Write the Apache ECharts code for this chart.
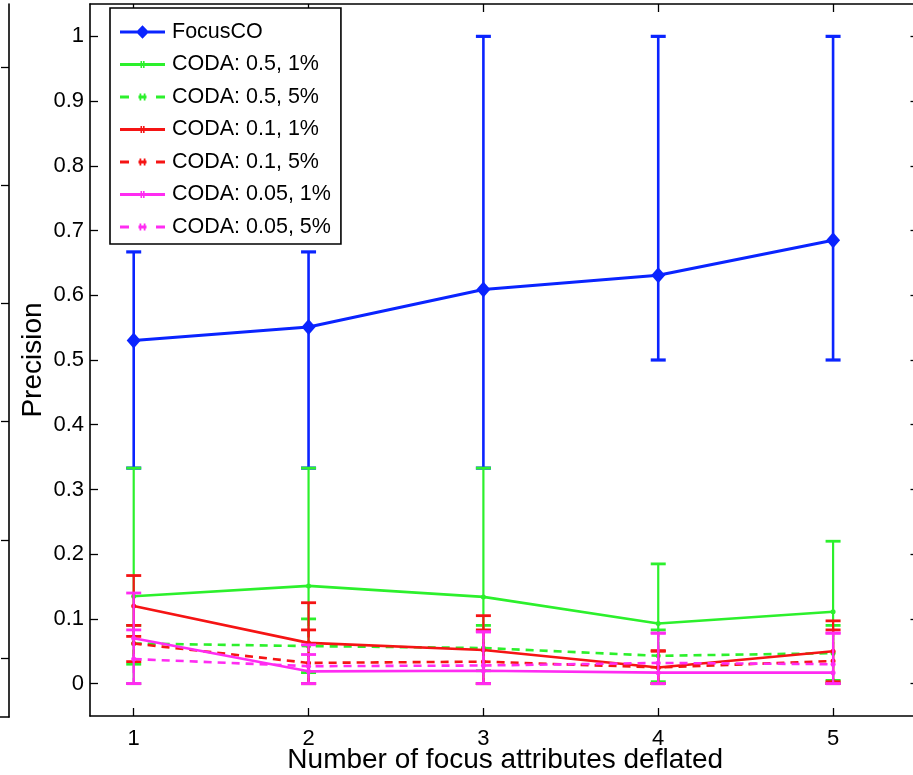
<!DOCTYPE html>
<html>
<head>
<meta charset="utf-8">
<script src="https://cdn.jsdelivr.net/npm/echarts@6/dist/echarts.min.js"></script>
<style>
html,body{margin:0;padding:0;background:#fff;}
#c{width:913px;height:775px;}
</style>
</head>
<body>
<div id="c"></div>
<script>
// ---- data ----
const xValues = [1, 2, 3, 4, 5];
const xTicks = [1, 2, 3, 4, 5];
const yTicks = [0, 0.1, 0.2, 0.3, 0.4, 0.5, 0.6, 0.7, 0.8, 0.9, 1];

const focusCO      = [0.530, 0.551, 0.609, 0.631, 0.685];
const focusCO_lo   = [0.333, 0.333, 0.333, 0.5, 0.5];
const focusCO_hi   = [0.667, 0.667, 1.0, 1.0, 1.0];

const coda05_1     = [0.135, 0.151, 0.134, 0.093, 0.111];
const coda05_1_lo  = [0, 0, 0, 0, 0];
const coda05_1_hi  = [0.333, 0.333, 0.333, 0.185, 0.22];

const coda05_5     = [0.062, 0.058, 0.055, 0.043, 0.047];
const coda05_5_lo  = [0.03, 0.017, 0.02, 0.003, 0.005];
const coda05_5_hi  = [0.09, 0.1, 0.09, 0.083, 0.09];

const coda01_1     = [0.120, 0.063, 0.052, 0.025, 0.050];
const coda01_1_lo  = [0.073, 0, 0, 0, 0.003];
const coda01_1_hi  = [0.167, 0.125, 0.105, 0.051, 0.097];

const coda01_5     = [0.062, 0.032, 0.034, 0.025, 0.035];
const coda01_5_lo  = [0.034, 0, 0, 0, 0];
const coda01_5_hi  = [0.09, 0.083, 0.083, 0.05, 0.083];

const coda005_1    = [0.070, 0.019, 0.020, 0.017, 0.017];
const coda005_1_lo = [0, 0, 0, 0, 0];
const coda005_1_hi = [0.14, 0.045, 0.08, 0.078, 0.078];

const coda005_5    = [0.038, 0.027, 0.028, 0.032, 0.030];
const coda005_5_lo = [0, 0, 0, 0, 0];
const coda005_5_hi = [0.083, 0.06, 0.08, 0.078, 0.078];

const seriesNames = ['FocusCO', 'CODA: 0.5, 1%', 'CODA: 0.5, 5%', 'CODA: 0.1, 1%', 'CODA: 0.1, 5%', 'CODA: 0.05, 1%', 'CODA: 0.05, 5%'];
const decoTicks = [0.5, 1.5, 2.5, 3.5, 4.5, 5.5];

// ---- styling ----
const FONT = '"Liberation Sans", Arial, Helvetica, sans-serif';
const BLUE = '#0a24ff', GREEN = '#2cf02c', RED = '#f51414', MAG = '#ff2cf2';

// legend icons (line sample + small marker), 45 x 14 box
const ICON_DIAMOND = 'path://M0,0L0,0Z M45,14L45,14Z M0,5.5h45v3h-45Z M22.5,0.3L29,7L22.5,13.7L16,7Z';
const ICON_SOLID = 'path://M0,0L0,0Z M45,14L45,14Z M0,5.6h45v2.8h-45Z M20.5,3.5h1.6v7h-1.6Z M23,3.5h1.6v7h-1.6Z';
const ICON_DASH  = 'path://M0,0L0,0Z M45,14L45,14Z M0,5.6h9v2.8h-9Z M36,5.6h9v2.8h-9Z M18.5,5.6h8v2.8h-8Z M19.5,3.5h1.8v7h-1.8Z M23.7,3.5h1.8v7h-1.8Z';

const defs = [
  {name: seriesNames[0], y: focusCO, lo: focusCO_lo, hi: focusCO_hi, color: BLUE, dashed: false, sym: 'diamond', size: [14, 16], lw: 3, cap: 15},
  {name: seriesNames[1], y: coda05_1, lo: coda05_1_lo, hi: coda05_1_hi, color: GREEN, dashed: false, sym: 'circle', size: 5, lw: 2.6, cap: 15},
  {name: seriesNames[2], y: coda05_5, lo: coda05_5_lo, hi: coda05_5_hi, color: GREEN, dashed: true, sym: 'circle', size: 5, lw: 2.6, cap: 15},
  {name: seriesNames[3], y: coda01_1, lo: coda01_1_lo, hi: coda01_1_hi, color: RED, dashed: false, sym: 'circle', size: 5, lw: 2.6, cap: 15},
  {name: seriesNames[4], y: coda01_5, lo: coda01_5_lo, hi: coda01_5_hi, color: RED, dashed: true, sym: 'circle', size: 5, lw: 2.6, cap: 15},
  {name: seriesNames[5], y: coda005_1, lo: coda005_1_lo, hi: coda005_1_hi, color: MAG, dashed: false, sym: 'circle', size: 5, lw: 2.6, cap: 15},
  {name: seriesNames[6], y: coda005_5, lo: coda005_5_lo, hi: coda005_5_hi, color: MAG, dashed: true, sym: 'circle', size: 5, lw: 2.6, cap: 15}
];

function errRender(color, dashed, capW, lw) {
  return function (params, api) {
    const x = api.value(0), lo = api.value(2), hi = api.value(3);
    const pHi = api.coord([x, hi]);
    const pLo = api.coord([x, lo]);
    const hw = capW / 2;
    const style = {stroke: color, lineWidth: lw, lineDash: dashed ? [7, 5] : null, fill: null};
    const capStyle = {stroke: color, lineWidth: lw + 0.6, fill: null};
    return {
      type: 'group',
      children: [
        {type: 'line', shape: {x1: pHi[0], y1: pHi[1], x2: pLo[0], y2: pLo[1]}, style: style},
        {type: 'line', shape: {x1: pHi[0] - hw, y1: pHi[1], x2: pHi[0] + hw, y2: pHi[1]}, style: capStyle},
        {type: 'line', shape: {x1: pLo[0] - hw, y1: pLo[1], x2: pLo[0] + hw, y2: pLo[1]}, style: capStyle}
      ]
    };
  };
}

const series = [];
defs.forEach(function (d, i) {
  series.push({
    name: d.name + ' err',
    type: 'custom',
    xAxisIndex: 0, yAxisIndex: 0,
    renderItem: errRender(d.color, d.dashed, d.cap, d.lw - 0.4),
    encode: {x: 0, y: [2, 3]},
    data: xValues.map(function (x, k) { return [x, d.y[k], d.lo[k], d.hi[k]]; }),
    z: 2 + i * 2,
    silent: true
  });
  series.push({
    name: d.name,
    type: 'line',
    xAxisIndex: 0, yAxisIndex: 0,
    data: xValues.map(function (x, k) { return [x, d.y[k]]; }),
    symbol: d.sym,
    symbolSize: d.size,
    showSymbol: true,
    itemStyle: {color: d.color},
    lineStyle: {color: d.color, width: d.lw, type: d.dashed ? [8, 6] : 'solid'},
    z: 3 + i * 2,
    animation: false
  });
});

const legendData = defs.map(function (d, i) {
  const icon = i === 0 ? ICON_DIAMOND : (d.dashed ? ICON_DASH : ICON_SOLID);
  return {name: d.name, icon: icon, itemStyle: {color: d.color, borderWidth: 0}};
});

const axisLineStyle = {color: '#000', width: 1.6};

const option = {
  animation: false,
  backgroundColor: '#fff',
  textStyle: {fontFamily: FONT},
  grid: [
    {left: 90, top: 4, width: 830.5, height: 712, containLabel: false, outerBoundsMode: 'none'},
    {left: -400, top: 4, width: 409, height: 713, containLabel: false, outerBoundsMode: 'none'}
  ],
  xAxis: [
    {
      type: 'value', gridIndex: 0, min: 0.75, max: 5.5, position: 'bottom',
      name: 'Number of focus attributes deflated', nameLocation: 'middle', nameGap: 30,
      nameMoveOverlap: false,
      nameTextStyle: {fontSize: 28, color: '#000', fontFamily: FONT, verticalAlign: 'top'},
      axisLine: {show: true, onZero: false, lineStyle: axisLineStyle},
      axisTick: {show: true, inside: true, length: 8, customValues: xTicks, lineStyle: {color: '#000', width: 1.3}},
      axisLabel: {show: true, customValues: xTicks, fontSize: 22, color: '#000', margin: 12, fontFamily: FONT},
      splitLine: {show: false}
    },
    {
      type: 'value', gridIndex: 0, min: 0.75, max: 5.5, position: 'top',
      axisLine: {show: true, onZero: false, lineStyle: axisLineStyle},
      axisTick: {show: true, inside: true, length: 8, customValues: xTicks, lineStyle: {color: '#000', width: 1.3}},
      axisLabel: {show: false},
      splitLine: {show: false}
    },
    {
      type: 'value', gridIndex: 1, min: 0, max: 1, position: 'bottom',
      axisLine: {show: true, onZero: false, lineStyle: axisLineStyle},
      axisTick: {show: false}, axisLabel: {show: false}, splitLine: {show: false}
    }
  ],
  yAxis: [
    {
      type: 'value', gridIndex: 0, min: -0.05, max: 1.05, position: 'left',
      name: 'Precision', nameLocation: 'middle', nameGap: 43, nameRotate: 90,
      nameMoveOverlap: false,
      nameTextStyle: {fontSize: 28, color: '#000', fontFamily: FONT, verticalAlign: 'bottom'},
      axisLine: {show: true, onZero: false, lineStyle: axisLineStyle},
      axisTick: {show: true, inside: true, length: 8, customValues: yTicks, lineStyle: {color: '#000', width: 1.3}},
      axisLabel: {show: true, customValues: yTicks, fontSize: 22, color: '#000', margin: 6, fontFamily: FONT,
        formatter: function (v) { return String(Math.round(v * 10) / 10); }},
      splitLine: {show: false}
    },
    {
      type: 'value', gridIndex: 0, min: -0.05, max: 1.05, position: 'right',
      axisLine: {show: true, onZero: false, lineStyle: axisLineStyle},
      axisTick: {show: true, inside: true, length: 10, customValues: yTicks, lineStyle: {color: '#000', width: 1.3}},
      axisLabel: {show: false},
      splitLine: {show: false}
    },
    {
      type: 'value', gridIndex: 1, min: 0, max: 712 / 118, position: 'right',
      axisLine: {show: true, onZero: false, lineStyle: axisLineStyle},
      axisTick: {show: true, inside: true, length: 8, customValues: decoTicks, lineStyle: {color: '#000', width: 1.3}},
      axisLabel: {show: false},
      splitLine: {show: false}
    }
  ],
  legend: {
    data: legendData,
    orient: 'vertical',
    left: 110, top: 8,
    padding: [13, 10, 6, 10],
    itemWidth: 45, itemHeight: 14,
    itemGap: 10.5,
    symbolKeepAspect: false,
    backgroundColor: '#fff',
    borderColor: '#000', borderWidth: 1.6,
    textStyle: {fontSize: 21.5, color: '#000', fontFamily: FONT, lineHeight: 22, padding: [0, 0, 0, 2]},
    selectedMode: false
  },
  series: series
};

const chart = echarts.init(document.getElementById('c'), null, {renderer: 'canvas'});
chart.setOption(option);
</script>
</body>
</html>
